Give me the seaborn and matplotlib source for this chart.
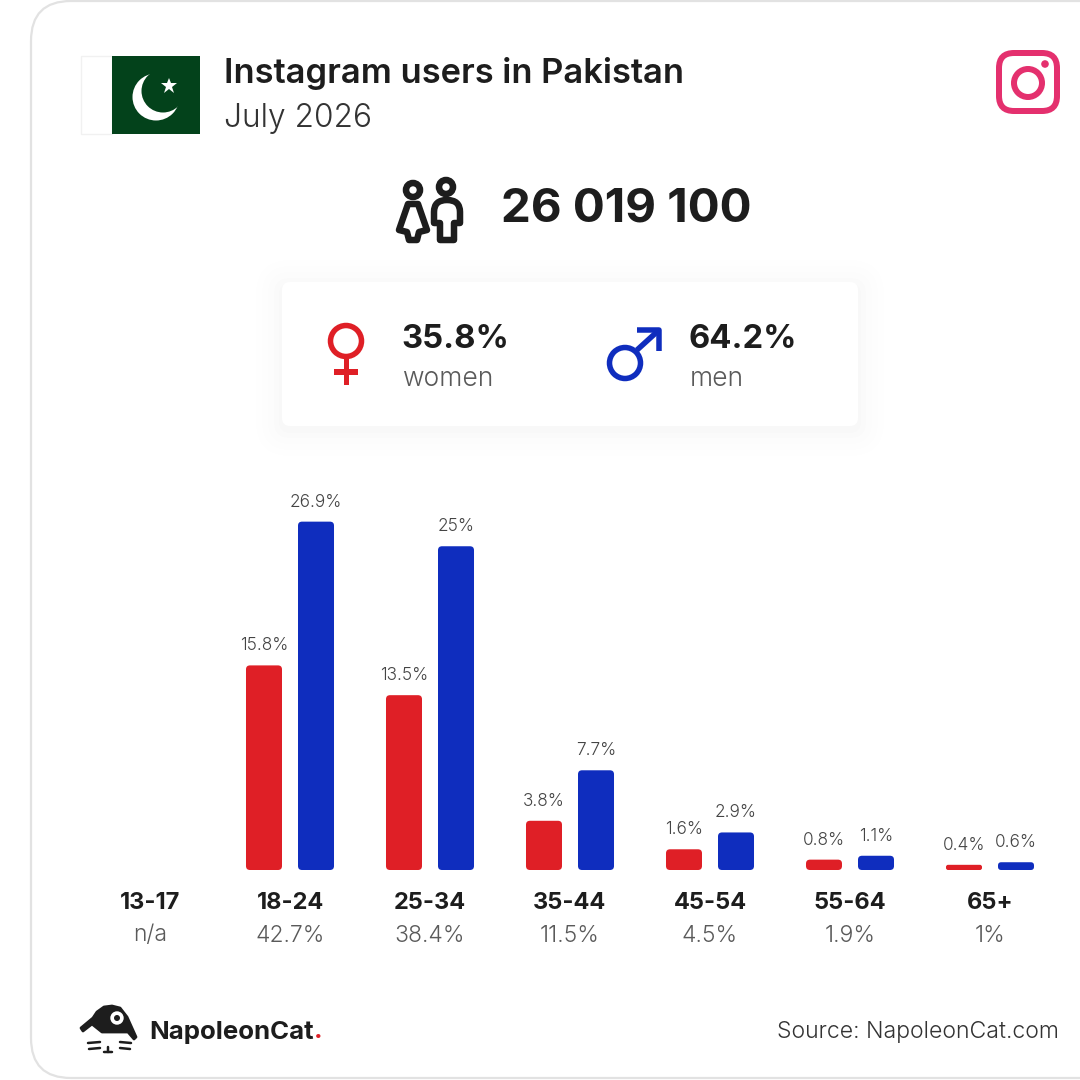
import numpy as np
import pandas as pd
import matplotlib
matplotlib.use("Agg")
import matplotlib.pyplot as plt
from matplotlib.patches import Circle, FancyBboxPatch, Polygon, Rectangle
from matplotlib.path import Path
from matplotlib.patches import PathPatch
import seaborn as sns

# data
ages = ["13-17", "18-24", "25-34", "35-44", "45-54", "55-64", "65+"]
women = [np.nan, 15.8, 13.5, 3.8, 1.6, 0.8, 0.4]
men = [np.nan, 26.9, 25, 7.7, 2.9, 1.1, 0.6]
shares = ["n/a", "42.7%", "38.4%", "11.5%", "4.5%", "1.9%", "1%"]
total_users = "26 019 100"
women_share = "35.8%"
men_share = "64.2%"

DARK = "#1d1d1d"
GREY = "#5a5a5a"
RED = "#df1f26"
BLUE = "#0f2dbe"
PINK = "#e4306e"
GREEN = "#03421b"
FONT = "Inter"

sns.set_theme(style="white")
plt.rcParams["font.family"] = [FONT, "DejaVu Sans"]

fig = plt.figure(figsize=(10.8, 10.8), dpi=100, facecolor="white")

# background layer in pixels, for the card and icons
bg = fig.add_axes([0, 0, 1, 1], zorder=1)
bg.set_xlim(0, 1080)
bg.set_ylim(1080, 0)
bg.axis("off")

PX = 0.72  # points per pixel


def round_box(x, y, w, h, r, **kw):
    p = FancyBboxPatch((x + r, y + r), w - 2 * r, h - 2 * r,
                       boxstyle=f"round,pad={r},rounding_size={r}", **kw)
    bg.add_patch(p)
    return p


def stroke(points, color, width, closed=False, cap="round"):
    line = Polygon(points, closed=closed, fill=False, edgecolor=color,
                   linewidth=width * PX, joinstyle="round", capstyle=cap)
    bg.add_patch(line)


round_box(31, 1, 1200, 1077, 40, facecolor="white", edgecolor="#e2e2e2", linewidth=1.6)

# flag
bg.add_patch(Rectangle((81, 56), 31, 78, facecolor="white", edgecolor="#f1f1f1", linewidth=1))
bg.add_patch(Rectangle((112, 56), 88, 78, facecolor=GREEN, edgecolor="none"))
bg.add_patch(Circle((156, 97), 23.5, facecolor="white", edgecolor="none"))
bg.add_patch(Circle((163, 91), 21.5, facecolor=GREEN, edgecolor="none"))
bg.plot([168.5], [85.5], marker="*", markersize=12, color="white", markeredgewidth=0)

# instagram icon
round_box(999, 53, 58, 58, 15, facecolor="none", edgecolor=PINK, linewidth=6 * PX)
bg.add_patch(Circle((1028, 83), 14, facecolor="none", edgecolor=PINK, linewidth=6 * PX))
bg.add_patch(Circle((1045, 64), 3.8, facecolor=PINK, edgecolor="none"))

bg.text(224, 73, "Instagram users in Pakistan", fontsize=24.8, fontweight=600, color=DARK, va="center")
bg.text(224, 118, "July 2026", fontsize=22.8, fontweight=300, color="#333333", va="center")

# people icon
bg.add_patch(Circle((413, 190), 7, facecolor="none", edgecolor=DARK, linewidth=6.5 * PX))
bg.add_patch(Circle((446, 187), 7, facecolor="none", edgecolor=DARK, linewidth=6.5 * PX))
stroke([(408, 204), (418, 204), (427, 230), (419, 232), (417, 240), (409, 240), (407, 232), (399, 230)], DARK, 6.5, closed=True)
verts = [(434, 223), (434, 212), (434, 200), (447, 200), (460, 200), (460, 212), (460, 223),
         (454, 223), (454, 240), (440, 240), (440, 223), (434, 223)]
codes = [Path.MOVETO, Path.LINETO, Path.CURVE3, Path.CURVE3, Path.CURVE3, Path.CURVE3, Path.LINETO,
         Path.LINETO, Path.LINETO, Path.LINETO, Path.LINETO, Path.CLOSEPOLY]
bg.add_patch(PathPatch(Path(verts, codes), facecolor="none", edgecolor=DARK, linewidth=6.5 * PX, joinstyle="round"))

bg.text(626, 209, total_users, fontsize=34.2, fontweight=700, color=DARK, ha="center", va="center")

# gender card with a soft shadow
for grow, alpha in zip([26, 20, 14, 8, 3], [0.003, 0.004, 0.005, 0.006, 0.007]):
    round_box(282 - grow, 282 - grow + 4, 576 + 2 * grow, 144 + 2 * grow, 8 + grow,
              facecolor="black", edgecolor="none", alpha=alpha)
round_box(282, 282, 576, 144, 8, facecolor="white", edgecolor="none")

bg.add_patch(Circle((346, 341), 15.5, facecolor="none", edgecolor=RED, linewidth=5.5 * PX))
bg.add_patch(Rectangle((343.5, 358), 5.5, 27, facecolor=RED, edgecolor="none"))
bg.add_patch(Rectangle((334, 369), 24, 6, facecolor=RED, edgecolor="none"))

bg.add_patch(Circle((625, 363), 15.5, facecolor="none", edgecolor=BLUE, linewidth=5.5 * PX))
stroke([(637, 350), (659, 330)], BLUE, 5.5, cap="butt")
stroke([(637, 329.5), (659, 329.5), (659, 351)], BLUE, 5.5, cap="butt")

bg.text(401, 339, women_share, fontsize=23.6, fontweight=700, color=DARK, va="center")
bg.text(402, 379, "women", fontsize=19, fontweight=300, color=GREY, va="center")
bg.text(689, 339, men_share, fontsize=23.6, fontweight=700, color=DARK, va="center")
bg.text(690, 379, "men", fontsize=19, fontweight=300, color=GREY, va="center")

# bars, 12.95 px per percent, one category is 140 px
PX_PER_PCT = 12.95
y_top = 30
ax_top = 870 - y_top * PX_PER_PCT
ax = fig.add_axes([80 / 1080, 1 - 870 / 1080, 980 / 1080, (870 - ax_top) / 1080], zorder=2)
ax.patch.set_alpha(0)

df = pd.DataFrame({
    "age": ages * 2,
    "share": women + men,
    "gender": ["women"] * len(ages) + ["men"] * len(ages),
})
sns.barplot(data=df, x="age", y="share", hue="gender", order=ages,
            hue_order=["women", "men"], palette=[RED, BLUE], saturation=1,
            width=0.743, gap=0.3077, errorbar=None, legend=False, ax=ax)
ax.set_xlim(-0.5, 6.5)
ax.set_ylim(0, y_top)
ax.set_xlabel("")
ax.set_ylabel("")
ax.set_yticks([])
sns.despine(ax=ax, left=True, bottom=True)

for container in ax.containers:
    vals = [b.get_height() for b in container]
    labels = [f"{v:g}%" if v == v else "" for v in vals]
    ax.bar_label(container, labels=labels, padding=8, fontsize=12.4, fontweight=300, color="#444444")

# swap the square bars for rounded ones
aspect = (1 / PX_PER_PCT) / (1 / 140)
rad = 4 / 140
for bar in list(ax.patches):
    x, w, h = bar.get_x(), bar.get_width(), bar.get_height()
    color = bar.get_facecolor()
    bar.set_visible(False)
    if not h > 0:
        continue
    r = min(rad, h * 0.5 * 140 / PX_PER_PCT / 140 * 0.99)
    ax.add_patch(FancyBboxPatch((x + r, r * aspect), w - 2 * r, h - 2 * r * aspect,
                                boxstyle=f"round,pad={r},rounding_size={r}",
                                mutation_aspect=aspect, facecolor=color, edgecolor="none",
                                clip_on=False))

ax.set_xticks(range(len(ages)))
ax.set_xticklabels(ages, fontsize=17, fontweight=700, color=DARK)
ax.tick_params(axis="x", length=0, pad=16)
trans = ax.get_xaxis_transform()
for i, s in enumerate(shares):
    ax.text(i, -65.5 / (y_top * PX_PER_PCT), s, transform=trans, ha="center", va="center",
            fontsize=16.5, fontweight=300, color=GREY)

# footer, cat logo
cat = [(81, 1028), (93, 1018), (97, 1012), (104, 1007), (112, 1006), (120, 1008), (127, 1017), (136, 1037),
       (134, 1039), (128, 1032), (117, 1032), (102, 1032), (92, 1024), (83, 1031)]
bg.add_patch(Polygon(cat, closed=True, facecolor=DARK, edgecolor=DARK, linewidth=2, joinstyle="round"))
bg.add_patch(Circle((117, 1018), 6.7, facecolor="white", edgecolor="none"))
bg.add_patch(Circle((117, 1018), 3, facecolor=DARK, edgecolor="none"))
for seg in [[(88, 1043), (100, 1042)], [(89, 1049), (100, 1048)], [(120, 1042), (131, 1043)],
            [(120, 1048), (130, 1049)], [(108, 1047), (108, 1052)], [(104, 1052), (112, 1052)]]:
    stroke(seg, DARK, 2.5)

logo = bg.text(149, 1032, "NapoleonCat", fontsize=18.6, fontweight=700, color=DARK, va="center")
fig.canvas.draw()
box = logo.get_window_extent()
bg.text(box.x1 + 0.5, 1032, ".", fontsize=18.6, fontweight=700, color=RED, va="center")

bg.text(1059, 1032, "Source: NapoleonCat.com", fontsize=16.6, fontweight=300, color="#333333", ha="right", va="center")

fig.savefig("out.png", dpi=100, facecolor="white")
